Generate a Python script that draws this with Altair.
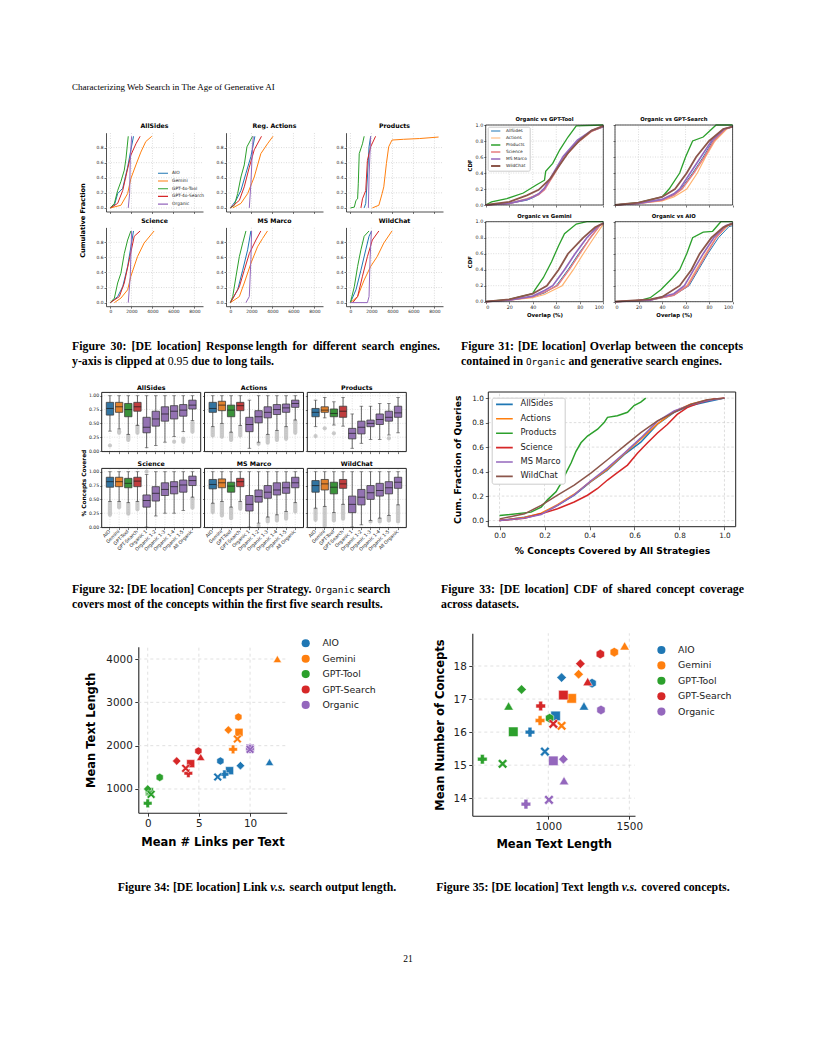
import altair as alt
import pandas as pd

SANS = "DejaVu Sans"
SERIF = "Liberation Serif"
MONO = "DejaVu Sans Mono"
INK = "#222222"
GRID = "#b8b8b8"

# ---------------- page text ----------------
HEADER = "Characterizing Web Search in The Age of Generative AI"
CAP30 = ["Figure 30: [DE location] Response length for different search engines.",
         "y-axis is clipped at 0.95 due to long tails."]
CAP31 = ["Figure 31: [DE location] Overlap between the concepts",
         "contained in Organic and generative search engines."]
CAP32 = ["Figure 32: [DE location] Concepts per Strategy. Organic search",
         "covers most of the concepts within the first five search results."]
CAP33 = ["Figure 33: [DE location] CDF of shared concept coverage",
         "across datasets."]
CAP34 = "Figure 34: [DE location] Link v.s. search output length."
CAP35 = "Figure 35: [DE location] Text length v.s. covered concepts."
MONO_WORDS = ["Organic"]
PLAIN_WORDS = ["0.95"]
ITALIC_WORDS = ["v.s."]
PAGE_NO = "21"

# ---------------- Fig 30: response length CDFs ----------------
ENGINES30 = ["AIO", "Gemini", "GPT-4o-Tool", "GPT-4o-Search", "Organic"]
COLORS30 = ["#1f77b4", "#ff7f0e", "#2ca02c", "#d62728", "#9467bd"]
PANELS30 = ["AllSides", "Reg. Actions", "Products", "Science", "MS Marco", "WildChat"]
RL_X_TICKS = [0, 2000, 4000, 6000, 8000]
RL_Y_TICKS = [0, .2, .4, .6, .8]

RL_ALLSIDES = {
    "AIO": ([0, 380, 690, 1170, 1640, 1950, 2200], [0, .035, .19, .26, .54, .77, .95]),
    "Gemini": ([0, 1000, 1640, 1950, 2430, 2900, 3370, 3940], [0, .035, .19, .39, .57, .74, .88, .95]),
    "GPT-4o-Tool": ([0, 380, 690, 1000, 1320, 1480, 1700], [0, .06, .23, .35, .5, .65, .95]),
    "GPT-4o-Search": ([0, 690, 1170, 1640, 1950, 2430, 2830], [0, .06, .23, .52, .7, .85, .95]),
    "Organic": ([1700, 1830, 1890, 2020], [0, .19, .63, .95]),
}
RL_ACTIONS = {
    "AIO": ([0, 535, 1000, 1480, 1950, 2330], [0, .1, .23, .46, .68, .95]),
    "Gemini": ([220, 1000, 1640, 2270, 2900, 3530, 4060], [0, .06, .19, .41, .72, .85, .95]),
    "GPT-4o-Tool": ([0, 380, 690, 1000, 1320, 1575, 2110], [0, .035, .19, .41, .57, .81, .95]),
    "GPT-4o-Search": ([0, 850, 1320, 1800, 2270, 2960], [0, .1, .28, .54, .77, .95]),
    "Organic": ([1800, 1950, 2050, 2170], [0, .32, .63, .95]),
}
RL_PRODUCTS = {
    "AIO": ([1310, 1460, 1620, 1775, 1930], [0, .06, .41, .81, .95]),
    "Gemini": ([2090, 2710, 3020, 3180, 3430, 3645, 3960, 5050, 6600, 8400],
               [0, .035, .19, .28, .59, .81, .9, .91, .92, .94]),
    "GPT-4o-Tool": ([0, 370, 530, 685, 750, 840, 1150, 1310], [0, .01, .1, .12, .32, .72, .85, .95]),
    "GPT-4o-Search": ([1000, 1150, 1460, 1620, 1930, 2400], [0, .12, .23, .63, .81, .95]),
    "Organic": ([1710, 1775, 1930], [0, .41, .95]),
}
RL_SCIENCE = {
    "AIO": ([0, 690, 1170, 1640, 1950, 2200], [0, .08, .21, .48, .74, .95]),
    "Gemini": ([380, 1000, 1640, 1950, 2580, 3210, 3685, 4160], [0, .06, .17, .35, .61, .79, .87, .95]),
    "GPT-4o-Tool": ([0, 380, 690, 1000, 1320, 1640, 1950], [0, .06, .26, .39, .65, .83, .95]),
    "GPT-4o-Search": ([0, 850, 1320, 1800, 2270, 2830], [0, .08, .26, .57, .88, .95]),
    "Organic": ([1700, 1890, 2020], [0, .35, .95]),
}
RL_MSMARCO = {
    "AIO": ([0, 690, 1170, 1640, 1950], [0, .17, .43, .7, .95]),
    "Gemini": ([0, 850, 1320, 1950, 2580, 3060, 3530], [0, .08, .26, .52, .74, .85, .95]),
    "GPT-4o-Tool": ([0, 220, 535, 850, 1170, 1480], [0, .08, .35, .61, .79, .95]),
    "GPT-4o-Search": ([0, 850, 1320, 1800, 2430, 2900], [0, .21, .43, .65, .83, .95]),
    "Organic": ([1480, 1800, 1950, 2020], [0, .08, .57, .95]),
}
RL_WILDCHAT = {
    "AIO": ([0, 530, 1000, 1460, 1775, 2020], [0, .17, .43, .7, .88, .95]),
    "Gemini": ([0, 685, 1310, 1930, 2550, 3180, 3960], [0, .08, .3, .48, .61, .79, .95]),
    "GPT-4o-Tool": ([0, 370, 685, 1000, 1310, 1775], [0, .21, .48, .7, .88, .95]),
    "GPT-4o-Search": ([220, 685, 1150, 1620, 2090, 2710], [0, .08, .35, .61, .83, .95]),
    "Organic": ([0, 1620, 1775, 1870, 2000], [0, 0, .08, .57, .95]),
}

# ---------------- Fig 31: overlap CDFs ----------------
DATASETS = ["AllSides", "Actions", "Products", "Science", "MS Marco", "WildChat"]
DS_COLORS31 = ["#1f77b4", "#ffb26e", "#2ca02c", "#e67d7e", "#9467bd", "#8c564b"]
DS_WIDTH31 = [1.0, 1.8, 1.0, 1.8, 1.0, 1.0]
PANELS31 = ["Organic vs GPT-Tool", "Organic vs GPT-Search", "Organic vs Gemini", "Organic vs AIO"]
OV_X_TICKS = [0, 20, 40, 60, 80, 100]
OV_Y_TICKS = [0, .2, .4, .6, .8, 1.0]

OV_GPT_TOOL = {
    "AllSides": ([0, 20, 35, 40, 45, 50, 58, 66, 78, 90, 100], [0, .02, .06, .09, .13, .2, .4, .6, .8, .93, .98]),
    "Actions": ([0, 20, 35, 40, 45, 50, 58, 66, 78, 90, 100], [0, .02, .08, .11, .14, .21, .4, .58, .78, .92, .98]),
    "Products": ([0, 5, 18, 32, 43, 50, 51, 57, 63, 70, 77, 100], [0, .04, .08, .15, .25, .31, .42, .52, .69, .85, .99, 1]),
    "Science": ([0, 20, 35, 40, 45, 50, 58, 66, 78, 90, 100], [0, .02, .07, .1, .13, .19, .38, .58, .78, .92, .98]),
    "MS Marco": ([0, 20, 35, 40, 45, 50, 58, 66, 78, 90, 100], [0, .02, .07, .1, .14, .21, .41, .61, .81, .93, .98]),
    "WildChat": ([0, 20, 35, 45, 55, 62, 70, 80, 90, 100], [0, .04, .12, .19, .33, .48, .65, .81, .93, .99]),
}
OV_GPT_SEARCH = {
    "AllSides": ([0, 20, 40, 50, 56, 66, 75, 83, 94, 100], [0, .02, .07, .13, .2, .4, .6, .8, .95, .98]),
    "Actions": ([0, 20, 40, 50, 61, 70, 77, 85, 95, 100], [0, .02, .05, .1, .2, .4, .6, .8, .95, .98]),
    "Products": ([0, 20, 40, 46, 55, 60, 66, 75, 86, 100], [0, .03, .1, .2, .4, .6, .8, .85, 1, 1]),
    "Science": ([0, 20, 40, 50, 57, 67, 76, 84, 94, 100], [0, .02, .06, .12, .2, .4, .6, .8, .95, .98]),
    "MS Marco": ([0, 20, 40, 50, 55, 64, 73, 82, 93, 100], [0, .02, .07, .14, .2, .4, .6, .8, .95, .98]),
    "WildChat": ([0, 20, 40, 51, 61, 69, 80, 92, 100], [0, .03, .1, .2, .4, .6, .8, .95, .98]),
}
OV_GEMINI = {
    "AllSides": ([0, 20, 40, 50, 60, 70, 79, 89, 97, 100], [0, .02, .06, .11, .2, .4, .6, .8, .95, .98]),
    "Actions": ([0, 20, 40, 50, 65, 74.5, 83, 92, 100], [0, .02, .05, .09, .2, .4, .6, .8, .97]),
    "Products": ([0, 20, 40, 42, 49, 56, 62, 67, 77, 86, 100], [0, .03, .1, .15, .3, .5, .7, .85, .97, 1, 1]),
    "Science": ([0, 20, 40, 50, 61, 71, 80, 89, 97, 100], [0, .02, .06, .12, .2, .4, .6, .8, .95, .98]),
    "MS Marco": ([0, 20, 40, 50, 57, 67, 76, 86, 96, 100], [0, .02, .07, .14, .2, .4, .6, .8, .95, .98]),
    "WildChat": ([0, 20, 40, 52, 62, 70, 83, 93, 100], [0, .03, .1, .2, .4, .6, .8, .93, .98]),
}
OV_AIO = {
    "AllSides": ([0, 30, 50, 63, 71, 79, 88, 97, 100], [0, .02, .08, .2, .4, .6, .8, .94, .95]),
    "Actions": ([0, 30, 50, 61, 69, 77, 86, 96, 100], [0, .02, .09, .2, .4, .6, .8, .95, .97]),
    "Products": ([0, 20, 30, 39, 49, 55, 61, 66, 75, 83, 90, 100], [0, .01, .05, .15, .3, .4, .6, .8, .87, .88, 1, 1]),
    "Science": ([0, 30, 50, 62, 70, 78, 86, 95, 100], [0, .02, .08, .2, .4, .6, .8, .95, .97]),
    "MS Marco": ([0, 30, 50, 59, 67, 75, 84, 94, 100], [0, .02, .1, .2, .4, .6, .8, .95, .98]),
    "WildChat": ([0, 30, 40, 55, 65, 72, 82, 92, 100], [0, .03, .06, .2, .4, .6, .8, .93, .98]),
}

# ---------------- Fig 32: concepts per strategy (box stats) ----------------
STRATS = ["AIO", "Gemini", "GPT-Tool", "GPT-Search", "Organic 1", "Organic 1-2",
          "Organic 1-3", "Organic 1-4", "Organic 1-5", "All Organic"]
BOX_COLORS = ["#3274a1", "#e1812c", "#3a923a", "#c03d3e"] + ["#9372b2"] * 6
PANELS32 = ["AllSides", "Actions", "Products", "Science", "MS Marco", "WildChat"]
BOX_Y_TICKS = [0, .25, .5, .75, 1.0]

BOX_ALLSIDES = dict(
    lo=[.36, .40, .30, .46, .06, .10, .16, .26, .35, .55],
    q1=[.65, .70, .62, .72, .33, .45, .54, .58, .63, .76],
    med=[.77, .80, .75, .80, .43, .58, .67, .72, .74, .83],
    q3=[.88, .88, .86, .88, .61, .72, .80, .82, .84, .92],
    hi=[1, 1, 1, 1, 1, 1, 1, 1, 1, 1],
    olo=[.10, .33, .20, .33, None, None, None, .17, .17, .35],
    ohi=[.10, .36, .28, .45, None, None, None, .17, .22, .52])
BOX_ACTIONS = dict(
    lo=[.44, .50, .34, .46, .05, .16, .30, .37, .44, .56],
    q1=[.70, .73, .62, .73, .35, .51, .60, .66, .70, .79],
    med=[.77, .83, .74, .82, .48, .62, .70, .75, .78, .86],
    q3=[.88, .90, .83, .88, .61, .73, .80, .84, .85, .92],
    hi=[1, 1, 1, 1, .92, 1, 1, 1, 1, 1],
    olo=[.28, .26, .20, .28, None, .13, .15, .20, .22, .33],
    ohi=[.42, .48, .32, .44, None, .13, .28, .35, .42, .54])
BOX_PRODUCTS = dict(
    lo=[.44, .60, .47, .45, .05, .14, .21, .21, .29, .33],
    q1=[.62, .70, .62, .61, .22, .31, .44, .48, .54, .61],
    med=[.70, .74, .68, .72, .32, .43, .50, .57, .61, .69],
    q3=[.77, .80, .76, .81, .41, .54, .56, .67, .72, .81],
    hi=[.92, .97, .89, .97, .67, .81, .81, .86, .86, .97],
    olo=[.27, .41, .32, None, None, None, None, None, .23, None],
    ohi=[.27, .41, .32, None, None, None, None, None, .23, None])
BOX_SCIENCE = dict(
    lo=[.46, .46, .44, .46, 0, .20, .25, .25, .30, .54],
    q1=[.72, .73, .71, .73, .36, .47, .57, .60, .63, .75],
    med=[.82, .82, .79, .83, .48, .61, .68, .73, .76, .84],
    q3=[.90, .90, .88, .90, .58, .73, .80, .82, .85, .92],
    hi=[1, 1, 1, 1, .95, 1, 1, 1, 1, 1],
    olo=[.22, .36, .24, .32, 1.0, None, None, None, None, .35],
    ohi=[.44, .44, .42, .44, 1.0, None, None, None, None, .52])
BOX_MSMARCO = dict(
    lo=[.43, .46, .36, .46, 0, .07, .18, .22, .28, .44],
    q1=[.69, .71, .63, .73, .29, .45, .52, .58, .61, .71],
    med=[.77, .80, .74, .82, .41, .55, .63, .67, .71, .80],
    q3=[.86, .87, .81, .88, .57, .67, .75, .80, .81, .90],
    hi=[1, 1, 1, 1, 1, 1, 1, 1, 1, 1],
    olo=[.27, .21, .16, .33, None, .02, .10, .12, .15, .28],
    ohi=[.41, .44, .34, .44, None, .02, .16, .20, .26, .42])
BOX_WILDCHAT = dict(
    lo=[.34, .37, .26, .41, 0, .04, .12, .16, .21, .40],
    q1=[.63, .67, .60, .70, .26, .40, .50, .56, .60, .70],
    med=[.75, .78, .72, .78, .41, .54, .62, .66, .71, .81],
    q3=[.84, .86, .81, .86, .56, .68, .75, .79, .82, .90],
    hi=[1, 1, 1, 1, 1, 1, 1, 1, 1, 1],
    olo=[.13, .02, .12, .15, None, None, .10, .10, .12, .10],
    ohi=[.32, .35, .24, .39, None, None, .10, .14, .19, .38])

# ---------------- Fig 33: shared concept coverage CDF ----------------
DS_COLORS33 = ["#1f77b4", "#ff7f0e", "#2ca02c", "#d62728", "#9467bd", "#8c564b"]
CC_TICKS = [0, .2, .4, .6, .8, 1.0]
CC_MID_X = [0, .111, .185, .258, .332, .406, .48, .554, .628, .702, .776, .849, .923, 1.0]
CC_ALLSIDES_Y = [0, .028, .055, .124, .207, .318, .414, .539, .64, .787, .884, .939, .97, 1.0]
CC_ACTIONS_Y = [0, .025, .06, .13, .215, .32, .42, .545, .665, .79, .89, .95, .985, 1.0]
CC_MSMARCO_Y = [0, .02, .05, .125, .21, .325, .43, .55, .675, .81, .895, .945, .98, 1.0]
CC_WILDCHAT_Y = [.014, .055, .124, .207, .29, .387, .497, .608, .718, .815, .884, .948, .986, 1.0]
CC_SCIENCE_X = [0, .111, .185, .258, .332, .391, .436, .48, .524, .569, .613, .657, .702, .746, .79, .834, .893, .952, 1.0]
CC_SCIENCE_Y = [0, .019, .055, .097, .152, .207, .262, .331, .392, .453, .55, .633, .715, .785, .867, .923, .964, .992, 1.0]
CC_PRODUCTS_X = [0, .14, .185, .214, .251, .273, .295, .318, .34, .362, .391, .436, .465, .48, .524, .569, .598, .628, .65]
CC_PRODUCTS_Y = [.041, .069, .11, .171, .235, .304, .387, .47, .566, .635, .69, .746, .80, .843, .856, .884, .939, .967, 1.0]

# ---------------- Fig 34 / 35: scatter ----------------
ENGINES = ["AIO", "Gemini", "GPT-Tool", "GPT-Search", "Organic"]
ENGINE_COLORS = ["#1f77b4", "#ff7f0e", "#2ca02c", "#d62728", "#9467bd"]
DS34 = ["AllSides", "Reg. Actions", "Products", "Science", "MS Marco", "WildChat"]
DS35 = ["AllSides", "Actions", "Products", "Science", "MS Marco", "WildChat"]
HEX = "M0,-1L0.866,-0.5L0.866,0.5L0,1L-0.866,0.5L-0.866,-0.5Z"
XMARK = "M-1,-0.6L-0.6,-1L0,-0.4L0.6,-1L1,-0.6L0.4,0L1,0.6L0.6,1L0,0.4L-0.6,1L-1,0.6L-0.4,0Z"
SHAPES = ["square", HEX, "triangle-up", "diamond", "cross", XMARK]
SIZES34 = [64, 76, 81, 125, 81, 70]
SIZES35 = [90, 92, 100, 160, 100, 82]

LINKS_AIO = [8.0, 7.1, 11.9, 9.06, 7.5, 6.84]
TEXT_AIO = [1423, 1646, 1623, 1538, 1338, 1277]
LINKS_GEMINI = [8.92, 8.86, 12.67, 7.88, 8.34, 8.76]
TEXT_GEMINI = [2308, 2662, 4000, 2362, 1915, 2154]
LINKS_GPTTOOL = [0.16, 1.17, 0.2, 0.0, 0.0, 0.33]
TEXT_GPTTOOL = [938, 1269, 960, 1000, 669, 877]
LINKS_GPTSEARCH = [4.2, 4.95, 5.18, 2.83, 3.97, 3.71]
TEXT_GPTSEARCH = [1585, 1877, 1738, 1646, 1362, 1477]
LINKS_ORGANIC = [10, 10, 10, 10, 10, 10]
TEXT_ORGANIC = [1945, 1962, 1930, 1950, 1925, 1915]

LEN_AIO = [1045, 1270, 1220, 1082, 887, 979]
CONC_AIO = [16.49, 17.48, 16.79, 17.65, 16.0, 15.41]
LEN_GEMINI = [1144, 1407, 1471, 1187, 949, 1082]
CONC_GEMINI = [17.02, 18.42, 18.61, 17.75, 16.35, 16.19]
LEN_GPTTOOL = [784, 1008, 755, 835, 593, 718]
CONC_GPTTOOL = [16.01, 16.42, 16.79, 17.29, 15.18, 15.04]
LEN_GPTSEARCH = [1093, 1321, 1243, 1198, 953, 1031]
CONC_GPTSEARCH = [17.12, 18.36, 17.53, 18.07, 16.79, 16.25]
LEN_ORGANIC = [1031, 1325, 1097, 1093, 862, 1004]
CONC_ORGANIC = [15.13, 16.67, 14.53, 15.18, 13.82, 13.95]

# =====================================================================
W, H = 800, 1040          # one canvas; page pixel p maps to p - 8
ONE = pd.DataFrame({"k": [0]})

# Times-Bold advance widths (1/1000 em), Liberation Serif is metric compatible
_TB = {" ": 250, ".": 250, ",": 250, ":": 333, "[": 333, "]": 333, "-": 333,
       "A": 722, "C": 722, "D": 722, "E": 667, "F": 611, "L": 667, "O": 778, "S": 556, "T": 667,
       "a": 500, "b": 556, "c": 444, "d": 556, "e": 444, "f": 333, "g": 500, "h": 556, "i": 278,
       "j": 333, "k": 556, "l": 278, "m": 833, "n": 556, "o": 500, "p": 556, "q": 556, "r": 444,
       "s": 389, "t": 333, "u": 556, "v": 500, "w": 722, "x": 500, "y": 500, "z": 444}


def L(p):
    return p - 8


def txt(s, x, y, size, weight="normal", font=SERIF, align="left", style="normal"):
    return alt.Chart(ONE).mark_text(text=s, font=font, fontSize=size, fontWeight=weight,
                                    fontStyle=style, align=align, baseline="alphabetic",
                                    color="black").encode(x=alt.value(L(x)), y=alt.value(L(y)))


CAP_SIZE = 11.8
MONO_SIZE = 9.4


def word_style(w):
    if w in MONO_WORDS:
        return dict(font=MONO, weight="normal", size=MONO_SIZE, style="normal"), 0.602 * MONO_SIZE * len(w)
    base = dict(font=SERIF, weight="normal" if w in PLAIN_WORDS else "bold", size=CAP_SIZE,
                style="italic" if w in ITALIC_WORDS else "normal")
    return base, sum(_TB.get(ch, 500) for ch in w) / 1000 * CAP_SIZE


def natural_width(line):
    words = line.split(" ")
    return sum(word_style(w)[1] for w in words) + 0.25 * CAP_SIZE * (len(words) - 1)


def caption_line(line, x0, y, x1=None, center=None):
    words = line.split(" ")
    info = [word_style(w) for w in words]
    natural = sum(wd for _, wd in info)
    gap = 0.25 * CAP_SIZE
    if x1 is not None and len(words) > 1:
        gap = max(gap, (x1 - x0 - natural) / (len(words) - 1))
    if center is not None:
        x0 = center - (natural + gap * (len(words) - 1)) / 2
    marks, x = [], x0
    for w, (st, wd) in zip(words, info):
        marks.append(txt(w, x, y, st["size"], st["weight"], st["font"], "left", st["style"]))
        x += wd + gap
    return marks


def ax(**kw):
    base = dict(labelFont=SANS, titleFont=SANS, labelColor=INK, titleColor="black",
                domainColor=INK, tickColor=INK, titleFontWeight="bold", grid=False)
    base.update(kw)
    return alt.Axis(**base)


def sc(dom, a, b, **kw):
    return alt.Scale(domain=dom, range=[a, b], nice=False, zero=False, **kw)


def curves(data, key):
    rows = []
    for name, (xs, ys) in data.items():
        for i, (a, b) in enumerate(zip(xs, ys)):
            rows.append({key: name, "xv": a, "yv": b, "o": i})
    return pd.DataFrame(rows)


def vgrid(vals, lo, hi, X, Y, dash, color, width):
    df = pd.DataFrame({"g": vals, "lo": [lo] * len(vals), "hi": [hi] * len(vals)})
    return alt.Chart(df).mark_rule(strokeDash=dash, color=color, strokeWidth=width).encode(
        x=alt.X("g:Q", **X), y=alt.Y("lo:Q", **Y), y2="hi:Q")


def hgrid(vals, lo, hi, X, Y, dash, color, width):
    df = pd.DataFrame({"g": vals, "lo": [lo] * len(vals), "hi": [hi] * len(vals)})
    return alt.Chart(df).mark_rule(strokeDash=dash, color=color, strokeWidth=width).encode(
        y=alt.Y("g:Q", **Y), x=alt.X("lo:Q", **X), x2="hi")


def frame(xd, yd, X, Y, width):
    df = pd.DataFrame({"x0": [xd[0]], "x1": [xd[1]], "y0": [yd[0]], "y1": [yd[1]]})
    return alt.Chart(df).mark_rect(filled=False, color=INK, strokeWidth=width).encode(
        x=alt.X("x0:Q", **X), x2="x1", y=alt.Y("y0:Q", **Y), y2="y1")


# ---------------- Fig 30 ----------------
def rl_panel(i, data):
    r, c = divmod(i, 3)
    left = 106 + 120 * c
    right = left + 97
    top = (132.7, 227.4)[r]
    bottom = top + 78.8
    xd, yd = [-420, 8820], [-0.0475, 0.9975]
    common = dict(tickSize=2, tickWidth=0.6, domainWidth=0.8, labelFontSize=4.4, labelPadding=1)
    xa = ax(orient="bottom", offset=L(bottom) - H, values=RL_X_TICKS, format="d", labels=(r == 1),
            title=None, **common)
    yk = dict(orient="left", offset=-L(left), values=RL_Y_TICKS, format=".1f", title=None, **common)
    if i == 0:
        yk.update(title="Cumulative Fraction", titleFontSize=6.6, titleX=-24, titleY=L(220),
                  titleAngle=270, titleBaseline="middle", titleAlign="center")
    X = dict(scale=sc(xd, L(left), L(right)), axis=xa)
    Y = dict(scale=sc(yd, L(bottom), L(top)), axis=ax(**yk))
    leg = None
    if i == 0:
        leg = alt.Legend(orient="none", legendX=L(157), legendY=L(170.8), title=None,
                         labelFont=SANS, labelFontSize=4.4, labelColor=INK, symbolType="stroke",
                         symbolSize=100, symbolStrokeWidth=1.1, clipHeight=5, rowPadding=1.7,
                         labelOffset=3, padding=0)
    lines = alt.Chart(curves(data, "engine")).mark_line(strokeWidth=1).encode(
        x=alt.X("xv:Q", **X), y=alt.Y("yv:Q", **Y),
        color=alt.Color("engine:N", scale=alt.Scale(domain=ENGINES30, range=COLORS30), legend=leg),
        order="o:Q")
    return alt.layer(
        vgrid(RL_X_TICKS, yd[0], yd[1], X, Y, [1, 1.5], GRID, 0.5),
        hgrid(RL_Y_TICKS, xd[0], xd[1], X, Y, [1, 1.5], GRID, 0.5),
        lines,
        txt(PANELS30[i], left + 48.5, top - 4.6, 6.2, "bold", SANS, "center"))


# ---------------- Fig 31 ----------------
def ov_panel(i, data):
    r, c = divmod(i, 2)
    left = 485.7 + 129.3 * c
    right = left + 117.6
    top = 125 + 96.7 * r
    bottom = top + 80
    xd, yd = [0, 100], [0, 1]
    common = dict(tickSize=2, tickWidth=0.6, domain=False, labelFontSize=4.8, labelPadding=1)
    xk = dict(orient="bottom", offset=L(bottom) - H, values=OV_X_TICKS, labels=(r == 1), title=None, **common)
    if r == 1:
        xk.update(title="Overlap (%)", titleFontSize=5.4, titleY=12.6, titleBaseline="middle")
    yk = dict(orient="left", offset=-L(left), values=OV_Y_TICKS, format=".1f", labels=(c == 0),
              title=None, **common)
    if c == 0:
        yk.update(title="CDF", titleFontSize=5.4, titleX=-16.7, titleBaseline="middle",
                  titleAngle=270, titleAlign="center")
    X = dict(scale=sc(xd, L(left), L(right)), axis=ax(**xk))
    Y = dict(scale=sc(yd, L(bottom), L(top)), axis=ax(**yk))
    leg = None
    if i == 0:
        leg = alt.Legend(orient="none", legendX=L(487.7), legendY=L(126.7), title=None,
                         labelFont=SANS, labelFontSize=4.3, labelColor=INK, symbolType="stroke",
                         symbolSize=86, symbolStrokeWidth=1.2, clipHeight=4.6, rowPadding=2.0,
                         labelOffset=4.3, padding=2, fillColor="white", strokeColor="#cccccc",
                         cornerRadius=1.5)
    lines = alt.Chart(curves(data, "ds")).mark_line().encode(
        x=alt.X("xv:Q", **X), y=alt.Y("yv:Q", **Y),
        color=alt.Color("ds:N", scale=alt.Scale(domain=DATASETS, range=DS_COLORS31), legend=leg),
        strokeWidth=alt.StrokeWidth("ds:N", scale=alt.Scale(domain=DATASETS, range=DS_WIDTH31), legend=None),
        order="o:Q")
    return alt.layer(
        vgrid(OV_X_TICKS, yd[0], yd[1], X, Y, [1, 1.5], GRID, 0.5),
        hgrid(OV_Y_TICKS, xd[0], xd[1], X, Y, [1, 1.5], GRID, 0.5),
        lines,
        frame(xd, yd, X, Y, 0.8),
        txt(PANELS31[i], left + 58.8, top - 3.7, 5.3, "bold", SANS, "center"))


# ---------------- Fig 32 ----------------
def box_panel(i, st):
    r, c = divmod(i, 3)
    left = 101.7 + 102.8 * c
    right = left + 99
    top = 392.4 + 76 * r
    bottom = top + 59.2
    yd = [-0.01, 1.06]
    common = dict(tickSize=2, tickWidth=0.6, domain=False, labelPadding=1)
    xa = ax(orient="bottom", offset=L(bottom) - H, labels=(r == 1), labelFontSize=4.7, labelAngle=315,
            labelAlign="right", labelBaseline="middle", title=None, **common)
    yk = dict(orient="left", offset=-L(left), values=BOX_Y_TICKS, format=".2f", labels=(c == 0),
              labelFontSize=4.6, title=None, **common)
    if i == 0:
        yk.update(title="% Concepts Covered", titleFontSize=5.8, titleX=-18.4, titleY=L(482.7),
                  titleBaseline="middle", titleAngle=270, titleAlign="center")
    X = dict(sort=STRATS, scale=alt.Scale(domain=STRATS, range=[L(left), L(right)],
                                          paddingInner=0.2, paddingOuter=0.5), axis=xa)
    Y = dict(scale=sc(yd, L(bottom), L(top)), axis=ax(**yk))
    df = pd.DataFrame({"strategy": STRATS, "lo": st["lo"], "q1": st["q1"], "med": st["med"],
                       "q3": st["q3"], "hi": st["hi"], "olo": st["olo"], "ohi": st["ohi"]})
    base = alt.Chart(df)
    xs = alt.X("strategy:N", **X)
    out = base.transform_filter("isValid(datum.olo)").mark_rule(
        strokeWidth=4.2, strokeCap="round", color="#a8a8a8", opacity=0.6).encode(
        x=xs, y=alt.Y("olo:Q", **Y), y2="ohi:Q")
    whisk = base.mark_rule(color="#3d3d3d", strokeWidth=0.8).encode(x=xs, y=alt.Y("lo:Q", **Y), y2="hi:Q")
    cap_lo = base.mark_tick(color="#3d3d3d", thickness=0.8, size=3.6).encode(x=xs, y=alt.Y("lo:Q", **Y))
    cap_hi = base.mark_tick(color="#3d3d3d", thickness=0.8, size=3.6).encode(x=xs, y=alt.Y("hi:Q", **Y))
    box = base.mark_bar(stroke="#3d3d3d", strokeWidth=0.8).encode(
        x=xs, y=alt.Y("q1:Q", **Y), y2="q3:Q",
        fill=alt.Fill("strategy:N", scale=alt.Scale(domain=STRATS, range=BOX_COLORS), legend=None))
    med = base.mark_tick(color="#1a1a1a", thickness=1.0, size=7.4).encode(x=xs, y=alt.Y("med:Q", **Y))
    gdf = pd.DataFrame({"strategy": STRATS, "lo": [yd[0]] * 10, "hi": [yd[1]] * 10})
    gx = alt.Chart(gdf).mark_rule(strokeDash=[1, 1.5], color="#c4c4c4", strokeWidth=0.5).encode(
        x=xs, y=alt.Y("lo:Q", **Y), y2="hi:Q")
    hdf = pd.DataFrame({"g": BOX_Y_TICKS})
    gy = alt.Chart(hdf).mark_rule(strokeDash=[1, 1.5], color="#c4c4c4", strokeWidth=0.5).encode(
        y=alt.Y("g:Q", **Y), x=alt.value(L(left)), x2=alt.value(L(right)))
    fdf = pd.DataFrame({"y0": [yd[0]], "y1": [yd[1]]})
    fr = alt.Chart(fdf).mark_rect(filled=False, color=INK, strokeWidth=1).encode(
        y=alt.Y("y0:Q", **Y), y2="y1", x=alt.value(L(left)), x2=alt.value(L(right)))
    return alt.layer(gx, gy, out, whisk, cap_lo, cap_hi, box, med, fr,
                     txt(PANELS32[i], left + 49.5, top - 2.9, 6.3, "bold", SANS, "center"))


# ---------------- Fig 33 ----------------
def fig33():
    left, right, top, bottom = 488.3, 735.7, 392, 526.7
    d = [-0.05, 1.05]
    common = dict(domain=False, tickSize=3, tickWidth=0.7, labelFontSize=7.3, labelPadding=2,
                  titleFontSize=9.2, titleBaseline="middle", values=CC_TICKS, format=".1f")
    X = dict(scale=sc(d, L(left), L(right)),
             axis=ax(orient="bottom", offset=L(bottom) - H, title="% Concepts Covered by All Strategies",
                     titleY=23.5, **common))
    Y = dict(scale=sc(d, L(bottom), L(top)),
             axis=ax(orient="left", offset=-L(left), title="Cum. Fraction of Queries", titleX=-30.7,
                     titleAngle=270, titleAlign="center", **common))
    cc = {
        "AllSides": (CC_MID_X, CC_ALLSIDES_Y),
        "Actions": (CC_MID_X, CC_ACTIONS_Y),
        "Products": (CC_PRODUCTS_X, CC_PRODUCTS_Y),
        "Science": (CC_SCIENCE_X, CC_SCIENCE_Y),
        "MS Marco": (CC_MID_X, CC_MSMARCO_Y),
        "WildChat": (CC_MID_X, CC_WILDCHAT_Y),
    }
    leg = alt.Legend(orient="none", legendX=L(491.7), legendY=L(397.7), title=None, labelFont=SANS,
                     labelFontSize=8.3, labelColor=INK, symbolType="stroke", symbolSize=279,
                     symbolStrokeWidth=1.6, clipHeight=7, rowPadding=5.4, labelOffset=6.6,
                     padding=3.2, fillColor="white", strokeColor="#cccccc", cornerRadius=2)
    lines = alt.Chart(curves(cc, "ds")).mark_line(strokeWidth=1.5).encode(
        x=alt.X("xv:Q", **X), y=alt.Y("yv:Q", **Y),
        color=alt.Color("ds:N", scale=alt.Scale(domain=DATASETS, range=DS_COLORS33), legend=leg),
        order="o:Q")
    return alt.layer(
        vgrid(CC_TICKS, d[0], d[1], X, Y, [2.5, 2], "#c8c8c8", 0.6),
        hgrid(CC_TICKS, d[0], d[1], X, Y, [2.5, 2], "#c8c8c8", 0.6),
        lines, frame(d, d, X, Y, 1))


# ---------------- Fig 34 / 35 ----------------
def scatter_df(xs_list, ys_list, dsnames):
    rows = []
    for eng, xs, ys in zip(ENGINES, xs_list, ys_list):
        for dname, a, b in zip(dsnames, xs, ys):
            rows.append({"engine": eng, "dataset": dname, "xv": a, "yv": b})
    return pd.DataFrame(rows)


def scatter(df, dsnames, sizes, box, xd, yd, xvals, yvals, xtitle, ytitle, tx, xty, lx, lyc, lys):
    left, right, top, bottom = box
    common = dict(domainWidth=1.1, tickSize=3.5, tickWidth=0.9, labelFontSize=10.4, labelPadding=2.5,
                  titleFontSize=11.5, titleBaseline="middle", format="d")
    X = dict(scale=sc(xd, L(left), L(right)),
             axis=ax(orient="bottom", offset=L(bottom) - H, values=xvals, title=xtitle, titleY=xty, **common))
    Y = dict(scale=sc(yd, L(bottom), L(top)),
             axis=ax(orient="left", offset=-L(left), values=yvals, title=ytitle, titleX=tx, titleAngle=270,
                     titleAlign="center", **common))
    legc = alt.Legend(orient="none", legendX=L(lx), legendY=L(lyc), title=None, labelFont=SANS,
                      labelFontSize=9.4, labelColor=INK, symbolType="circle", symbolSize=66,
                      symbolStrokeWidth=0, clipHeight=9, rowPadding=5.4, labelOffset=12, padding=0)
    legs = alt.Legend(orient="none", legendX=L(lx), legendY=L(lys), title=None, labelFont=SANS,
                      labelFontSize=9.4, labelColor=INK, symbolSize=70, symbolFillColor="black",
                      symbolStrokeColor="black", symbolStrokeWidth=0, clipHeight=9, rowPadding=5.4,
                      labelOffset=12, padding=0)
    pts = alt.Chart(df).mark_point(filled=True, opacity=1, stroke="white", strokeWidth=0.5).encode(
        x=alt.X("xv:Q", **X), y=alt.Y("yv:Q", **Y),
        color=alt.Color("engine:N", scale=alt.Scale(domain=ENGINES, range=ENGINE_COLORS), legend=legc),
        shape=alt.Shape("dataset:N", scale=alt.Scale(domain=dsnames, range=SHAPES), legend=legs),
        size=alt.Size("dataset:N", scale=alt.Scale(domain=dsnames, range=sizes), legend=None))
    return alt.layer(
        vgrid(xvals, yd[0], yd[1], X, Y, [3, 3], "#d4d4d4", 0.7),
        hgrid(yvals, xd[0], xd[1], X, Y, [3, 3], "#d4d4d4", 0.7),
        pts)


rl = [RL_ALLSIDES, RL_ACTIONS, RL_PRODUCTS, RL_SCIENCE, RL_MSMARCO, RL_WILDCHAT]
ov = [OV_GPT_TOOL, OV_GPT_SEARCH, OV_GEMINI, OV_AIO]
bx = [BOX_ALLSIDES, BOX_ACTIONS, BOX_PRODUCTS, BOX_SCIENCE, BOX_MSMARCO, BOX_WILDCHAT]

df34 = scatter_df([LINKS_AIO, LINKS_GEMINI, LINKS_GPTTOOL, LINKS_GPTSEARCH, LINKS_ORGANIC],
                  [TEXT_AIO, TEXT_GEMINI, TEXT_GPTTOOL, TEXT_GPTSEARCH, TEXT_ORGANIC], DS34)
df35 = scatter_df([LEN_AIO, LEN_GEMINI, LEN_GPTTOOL, LEN_GPTSEARCH, LEN_ORGANIC],
                  [CONC_AIO, CONC_GEMINI, CONC_GPTTOOL, CONC_GPTSEARCH, CONC_ORGANIC], DS35)

layers = []
layers += [rl_panel(i, rl[i]) for i in range(6)]
layers += [ov_panel(i, ov[i]) for i in range(4)]
layers += [box_panel(i, bx[i]) for i in range(6)]
layers.append(fig33())
layers.append(scatter(df34, DS34, SIZES34, (138.3, 286.7, 646.7, 812.7), [-0.92, 13.58], [453, 4284],
                      [0, 5, 10], [1000, 2000, 3000, 4000], "Mean # Links per Text", "Mean Text Length",
                      -46.6, 29.3, 301, 638.8, 747.5))
layers.append(scatter(df35, DS35, SIZES35, (472.3, 635, 633.3, 815.7), [531, 1535], [13.47, 18.99],
                      [1000, 1500], [14, 15, 16, 17, 18], "Mean Text Length", "Mean Number of Concepts",
                      -32.3, 28.6, 656.7, 645.5, 747.5))

texts = [txt(HEADER, 72, 89.5, 9.0), txt(PAGE_NO, 408, 961.5, 9.5, align="center")]
texts += caption_line(CAP30[0], 72, 350, x1=440)
texts += caption_line(CAP30[1], 72, 365)
texts += caption_line(CAP31[0], 461, 350, x1=743)
texts += caption_line(CAP31[1], 461, 365)
texts += caption_line(CAP32[0], 72, 593, x1=72 + natural_width(CAP32[1]))
texts += caption_line(CAP32[1], 72, 608)
texts += caption_line(CAP33[0], 441, 593, x1=744)
texts += caption_line(CAP33[1], 441, 608)
texts += caption_line(CAP34, 0, 891, center=257)
texts += caption_line(CAP35, 0, 891, center=583)
layers.append(alt.layer(*texts))

CH = ["x", "y", "color", "fill", "shape", "size", "strokeWidth", "opacity"]
chart = alt.layer(*layers).resolve_scale(**{k: "independent" for k in CH}).resolve_axis(
    x="independent", y="independent").resolve_legend(
    **{k: "independent" for k in ["color", "fill", "shape", "size", "strokeWidth", "opacity"]}).properties(
    width=W, height=H, padding=0).configure(font=SANS).configure_view(stroke="transparent", strokeWidth=0)

chart.save("out.html", embed_options={"renderer": "svg", "actions": False})
